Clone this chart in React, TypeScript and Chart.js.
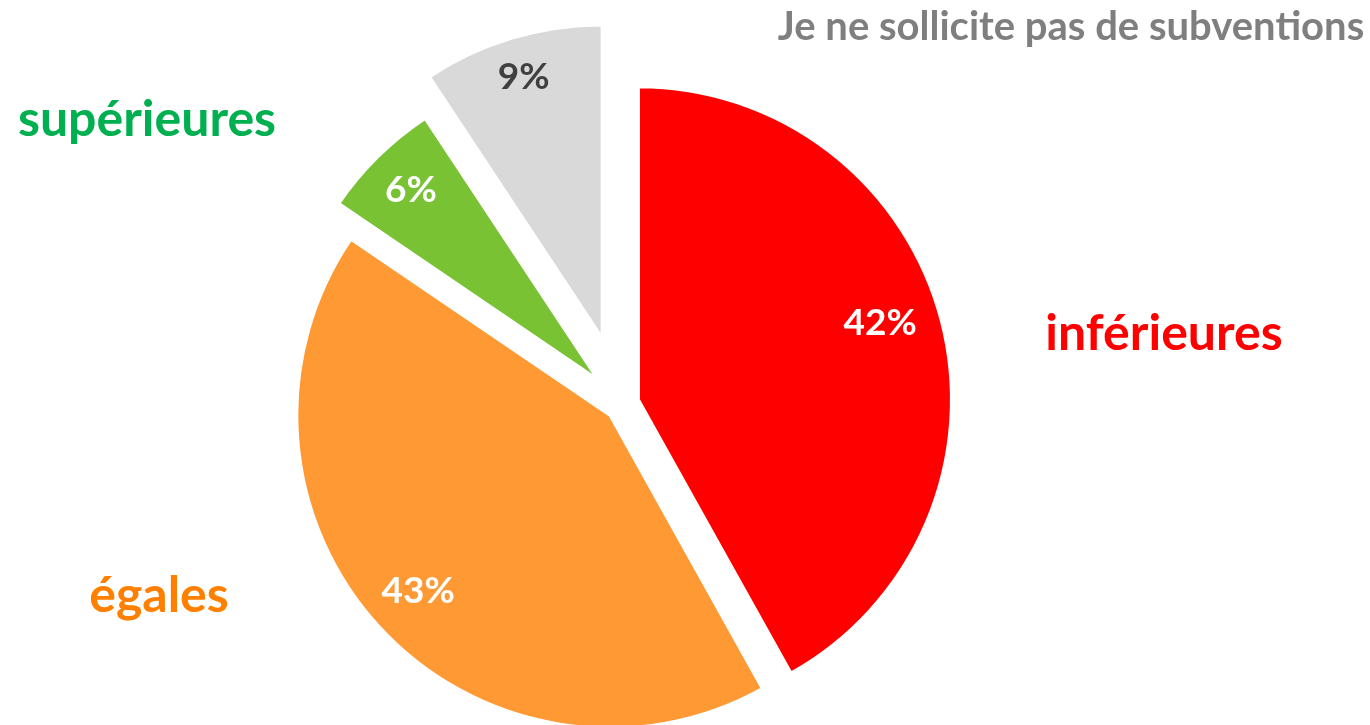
import React, { useEffect, useRef } from 'react';
import { Chart, registerables } from 'chart.js';

Chart.register(...registerables);

// ---- data ----
const categories = ['inférieures', 'égales', 'supérieures', 'Je ne sollicite pas de subventions'];
const shares = [41.9, 42.6, 6.2, 9.3];

// ---- styles ----
const sliceColors = ['#FF0000', '#FF9933', '#78C234', '#D9D9D9'];
const categoryColors = ['#FF0000', '#FF8000', '#00B050', '#7F7F7F'];
const valueLabelColors = ['#FFFFFF', '#FFFFFF', '#FFFFFF', '#404040'];
const explodeDistances = [17, 16.5, 34.5, 69];
const valueLabelRadius = [0.81, 0.83, 0.85, 0.87];
const valueLabelAngleAdjust = [-3, 0, 0, 0];
const categoryLabelPlacement = [
  { x: 1164, y: 350, size: 50 },
  { x: 159, y: 612, size: 50 },
  { x: 147, y: 136, size: 50 },
  { x: 1071, y: 40, size: 40 },
];
const FONT = 'Lato, "Open Sans", sans-serif';

const explodePlugin = {
  id: 'explode',
  afterDatasetUpdate(chart: any, args: any, opts: any) {
    const arcs = args.meta.data;
    arcs.forEach((arc: any, i: number) => {
      const d = (opts.distances && opts.distances[i]) || 0;
      const mid = (arc.startAngle + arc.endAngle) / 2;
      arc.x += Math.cos(mid) * d;
      arc.y += Math.sin(mid) * d;
    });
  },
};

const labelPlugin = {
  id: 'pieLabels',
  afterDatasetsDraw(chart: any) {
    const ctx = chart.ctx;
    const meta = chart.getDatasetMeta(0);
    const data: number[] = chart.data.datasets[0].data;
    const total = data.reduce((a, b) => a + b, 0);
    ctx.save();
    ctx.textAlign = 'center';
    ctx.textBaseline = 'middle';
    meta.data.forEach((arc: any, i: number) => {
      const mid = (arc.startAngle + arc.endAngle) / 2 + (valueLabelAngleAdjust[i] * Math.PI) / 180;
      const r = arc.outerRadius * valueLabelRadius[i];
      const x = arc.x + Math.cos(mid) * r;
      const y = arc.y + Math.sin(mid) * r;
      ctx.fillStyle = valueLabelColors[i];
      ctx.font = `bold 37px ${FONT}`;
      ctx.fillText(`${Math.round((data[i] / total) * 100)}%`, x, y);
    });
    ctx.textBaseline = 'alphabetic';
    chart.data.labels.forEach((label: string, i: number) => {
      const p = categoryLabelPlacement[i];
      ctx.fillStyle = categoryColors[i];
      ctx.font = `bold ${p.size}px ${FONT}`;
      ctx.fillText(label, p.x, p.y);
    });
    ctx.restore();
  },
};

export default function App() {
  const canvasRef = useRef<HTMLCanvasElement | null>(null);

  useEffect(() => {
    document.body.style.margin = '0';
    const canvas = canvasRef.current;
    if (!canvas) return;
    const chart = new Chart(canvas, {
      type: 'pie',
      data: {
        labels: categories,
        datasets: [
          {
            data: shares,
            backgroundColor: sliceColors,
            borderColor: '#FFFFFF',
            borderWidth: 3,
          },
        ],
      },
      options: {
        responsive: false,
        animation: false,
        events: [],
        radius: 313,
        layout: { padding: { left: 0, right: 126, top: 83, bottom: 0 } },
        plugins: {
          legend: { display: false },
          tooltip: { enabled: false },
          explode: { distances: explodeDistances },
        } as any,
      } as any,
      plugins: [explodePlugin, labelPlugin],
    });
    return () => chart.destroy();
  }, []);

  return (
    <div style={{ width: 1370, height: 725, background: '#fff' }}>
      <canvas ref={canvasRef} width={1370} height={725} style={{ display: 'block' }} />
    </div>
  );
}
